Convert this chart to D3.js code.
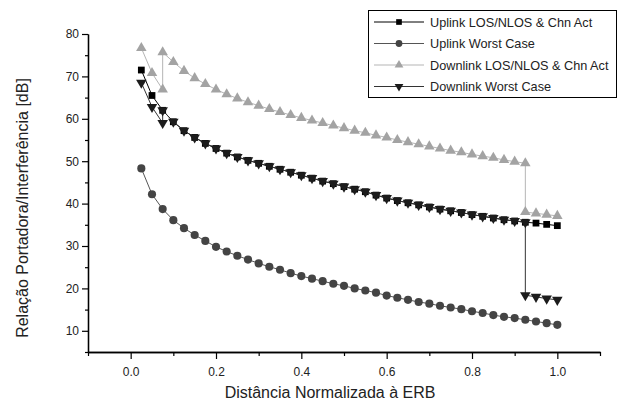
<!DOCTYPE html>
<html>
<head>
<meta charset="utf-8">
<script src="https://cdn.jsdelivr.net/npm/d3@7"></script>
<style>
  body { margin: 0; background: #fff; }
  svg { display: block; font-family: Arial, 'Liberation Sans', sans-serif; }
</style>
</head>
<body>
<div id="chart"></div>
<script>
// distances (normalised) - 40 samples
const xs = [0.025, 0.05, 0.075, 0.1, 0.125, 0.15, 0.175, 0.2, 0.225, 0.25,
  0.275, 0.3, 0.325, 0.35, 0.375, 0.4, 0.425, 0.45, 0.475, 0.5,
  0.525, 0.55, 0.575, 0.6, 0.625, 0.65, 0.675, 0.7, 0.725, 0.75,
  0.775, 0.8, 0.825, 0.85, 0.875, 0.9, 0.925, 0.95, 0.975, 1.0];

// downlink series have two jumps (at 0.075 and 0.925)
const xsJump = [0.025, 0.05, 0.075, 0.075, 0.1, 0.125, 0.15, 0.175, 0.2, 0.225, 0.25,
  0.275, 0.3, 0.325, 0.35, 0.375, 0.4, 0.425, 0.45, 0.475, 0.5,
  0.525, 0.55, 0.575, 0.6, 0.625, 0.65, 0.675, 0.7, 0.725, 0.75,
  0.775, 0.8, 0.825, 0.85, 0.875, 0.9, 0.925, 0.925, 0.95, 0.975, 1.0];

const uplinkLos = [71.5, 65.5, 62.0, 59.3, 57.2, 55.6, 54.2, 53.0, 51.9, 51.0,
  50.2, 49.5, 48.8, 48.1, 47.4, 46.7, 46.0, 45.3, 44.7, 44.0,
  43.4, 42.8, 42.0, 41.3, 40.7, 40.2, 39.7, 39.2, 38.7, 38.3,
  37.9, 37.4, 37.0, 36.6, 36.2, 35.9, 35.6, 35.4, 35.1, 34.8];

const uplinkWorst = [48.3, 42.2, 38.7, 36.1, 34.2, 32.6, 31.2, 29.8, 28.7, 27.7,
  26.8, 25.9, 25.1, 24.4, 23.6, 22.9, 22.3, 21.7, 21.1, 20.6,
  20.0, 19.5, 19.0, 18.3, 17.8, 17.3, 16.8, 16.4, 15.9, 15.5,
  15.1, 14.6, 14.2, 13.7, 13.3, 13.0, 12.6, 12.2, 11.8, 11.4];

const downlinkLos = [76.7, 70.8, 66.9, 75.7, 73.4, 71.3, 69.6, 68.2, 66.9, 65.8, 64.8,
  63.9, 63.1, 62.3, 61.6, 60.9, 60.2, 59.6, 59.0, 58.4, 57.8,
  57.2, 56.7, 56.1, 55.6, 55.0, 54.5, 54.0, 53.5, 53.0, 52.5,
  52.1, 51.6, 51.2, 50.8, 50.3, 49.9, 49.5, 38.0, 37.7, 37.4, 37.1];

const downlinkWorst = [68.5, 62.8, 59.0, 62.0, 59.3, 57.2, 55.6, 54.2, 53.0, 51.9, 51.0,
  50.2, 49.5, 48.8, 48.1, 47.4, 46.7, 46.0, 45.3, 44.7, 44.0,
  43.4, 42.8, 42.0, 41.3, 40.7, 40.2, 39.7, 39.2, 38.7, 38.3,
  37.9, 37.4, 37.0, 36.6, 36.2, 35.9, 35.6, 18.4, 18.0, 17.6, 17.3];

const xMajor = [0, 0.2, 0.4, 0.6, 0.8, 1.0];
const xMinor = [-0.1, 0.1, 0.3, 0.5, 0.7, 0.9, 1.1];
const yMajor = [10, 20, 30, 40, 50, 60, 70, 80];
const yMinor = [5, 15, 25, 35, 45, 55, 65, 75];

const series = [
  { name: 'Uplink LOS/NLOS & Chn Act', xv: xs, yv: uplinkLos, symbol: d3.symbolSquare, size: 46, color: '#000', line: '#000', rotate: 0 },
  { name: 'Uplink Worst Case', xv: xs, yv: uplinkWorst, symbol: d3.symbolCircle, size: 52, color: '#444', line: '#555', rotate: 0 },
  { name: 'Downlink LOS/NLOS & Chn Act', xv: xsJump, yv: downlinkLos, symbol: d3.symbolTriangle, size: 48, color: '#a3a3a3', line: '#b5b5b5', rotate: 0 },
  { name: 'Downlink Worst Case', xv: xsJump, yv: downlinkWorst, symbol: d3.symbolTriangle, size: 48, color: '#1c1c1c', line: '#333', rotate: 180 }
];

const W = 618, H = 408;
const x = d3.scaleLinear().domain([-0.1, 1.1]).range([88, 600]);
const y = d3.scaleLinear().domain([5, 80]).range([352, 34]);

const svg = d3.select('#chart').append('svg')
  .attr('width', W).attr('height', H);

// axes
const gx = svg.append('g').attr('transform', `translate(0,${y(5)})`);
gx.call(d3.axisBottom(x).tickValues(xMajor).tickSize(7).tickSizeOuter(0).tickFormat(d3.format('.1f')));
gx.append('g').call(d3.axisBottom(x).tickValues(xMinor).tickSize(4).tickSizeOuter(0).tickFormat(''));

const gy = svg.append('g').attr('transform', `translate(${x(-0.1)},0)`);
gy.call(d3.axisLeft(y).tickValues(yMajor).tickSize(6).tickSizeOuter(0));
gy.append('g').call(d3.axisLeft(y).tickValues(yMinor).tickSize(3).tickSizeOuter(0).tickFormat(''));

svg.selectAll('.domain').attr('stroke', '#000').attr('stroke-width', 1.3);
svg.selectAll('.tick line').attr('stroke', '#000').attr('stroke-width', 1.2);
svg.selectAll('.tick text').attr('font-size', 12).attr('fill', '#222')
  .attr('font-family', 'Arial, Liberation Sans, sans-serif');
gx.selectAll('.tick text').attr('dy', '1.2em');

// lines + markers
const line = d3.line().x(d => x(d[0])).y(d => y(d[1]));

series.forEach(s => {
  const pts = s.xv.map((v, i) => [v, s.yv[i]]);
  svg.append('path')
    .attr('d', line(pts))
    .attr('fill', 'none')
    .attr('stroke', s.line)
    .attr('stroke-width', 1);
  const sym = d3.symbol().type(s.symbol).size(s.size);
  svg.append('g').selectAll('path')
    .data(pts)
    .join('path')
    .attr('d', sym)
    .attr('transform', d => `translate(${x(d[0])},${y(d[1])}) rotate(${s.rotate})`)
    .attr('fill', s.color);
});

// axis titles
svg.append('text')
  .attr('x', 330).attr('y', 398)
  .attr('text-anchor', 'middle')
  .attr('font-size', 16)
  .attr('fill', '#222')
  .text('Distância Normalizada à ERB');

svg.append('text')
  .attr('transform', `translate(28,${208}) rotate(-90)`)
  .attr('text-anchor', 'middle')
  .attr('font-size', 16)
  .attr('fill', '#222')
  .text('Relação Portadora/Interferência [dB]');

// legend
const lg = svg.append('g').attr('transform', 'translate(368,10)');
lg.append('rect')
  .attr('x', 0.5).attr('y', 0.5)
  .attr('width', 248).attr('height', 87)
  .attr('fill', '#fff').attr('stroke', '#000').attr('stroke-width', 1);

series.forEach((s, i) => {
  const row = lg.append('g').attr('transform', `translate(0,${12 + i * 21.5})`);
  row.append('line')
    .attr('x1', 6).attr('x2', 56).attr('y1', 0).attr('y2', 0)
    .attr('stroke', s.line).attr('stroke-width', 1);
  row.append('path')
    .attr('d', d3.symbol().type(s.symbol).size(s.size * 0.7)())
    .attr('transform', `translate(31,0) rotate(${s.rotate})`)
    .attr('fill', s.color);
  row.append('text')
    .attr('x', 62).attr('y', 0).attr('dy', '0.36em')
    .attr('font-size', 12.7)
    .attr('fill', '#222')
    .text(s.name);
});
</script>
</body>
</html>
